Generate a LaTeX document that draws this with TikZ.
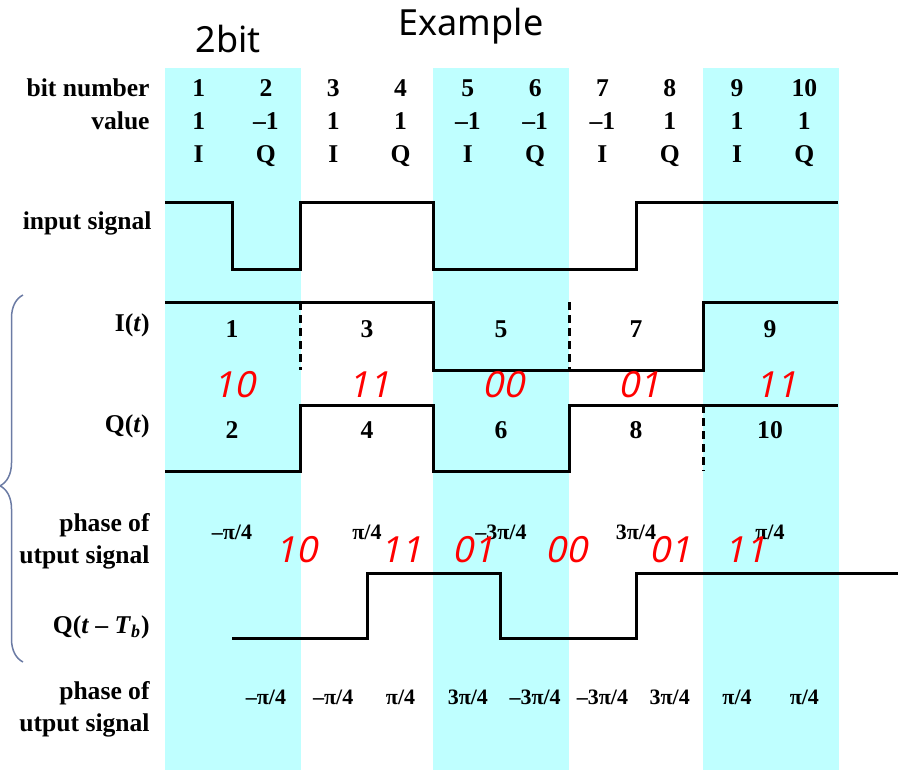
\documentclass[tikz,border=0pt]{standalone}
\usepackage{fontspec}
\setmainfont{Liberation Serif}
\newfontfamily\headfont{Noto Sans}
\newfontfamily\notefont[FakeSlant=0.22]{Noto Sans}
\usetikzlibrary{positioning, decorations.pathreplacing}
\definecolor{bandcyan}{HTML}{BFFFFF}
\definecolor{notered}{HTML}{FF0000}
\definecolor{braceblue}{HTML}{6B7BA4}

\begin{document}
\begin{tikzpicture}[x=0.5pt, y=-0.5pt,
    rowlabel/.style={anchor=base east, inner sep=0pt,
                     font=\fontsize{12.8}{16}\selectfont\bfseries},
    twoline/.style={anchor=east, inner sep=0pt, align=right,
                    font=\fontsize{12.8}{16}\selectfont\bfseries},
    cell/.style={anchor=base, inner sep=0pt,
                 font=\fontsize{12.8}{16}\selectfont\bfseries},
    phase/.style={anchor=base, inner sep=0pt,
                  font=\fontsize{11}{13}\selectfont\bfseries},
    note/.style={anchor=base, inner sep=0pt, text=notered,
                 font=\fontsize{18}{20}\selectfont\notefont},
    heading/.style={anchor=base, inner sep=0pt,
                    font=\fontsize{18}{21}\selectfont\headfont},
    wave/.style={line width=1.5pt},
    split/.style={line width=1.5pt, dash pattern=on 4pt off 2.5pt},
]

\useasboundingbox (0,0) rectangle (898,770);

% === Shaded I/Q pairs ===
\foreach \x in {165, 433, 703}
  \fill[bandcyan] (\x,68) rectangle ++(135.5,702);

% === Heading ===
\node[heading] (twobit)  at (228,53) {2bit};
\node[heading] (example) at (471,36) {Example};

% === Bit table ===
\node[rowlabel] (lbitnum) at (150,97)  {bit number};
\node[rowlabel] (lvalue)  at (150,130) {value};
\foreach \i/\v/\c in {1/1/I, 2/–1/Q, 3/1/I, 4/1/Q, 5/–1/I,
                      6/–1/Q, 7/–1/I, 8/1/Q, 9/1/I, 10/1/Q} {
  \node[cell] (num\i) at ({165+67.3*(\i-0.5)},97)  {\i};
  \node[cell] (val\i) at ({165+67.3*(\i-0.5)},130) {\v};
  \node[cell] (arm\i) at ({165+67.3*(\i-0.5)},163) {\c};
}

% === Input signal ===
\node[rowlabel] (linput) at (152,229) {input signal};
\draw[wave] (165,203) -- (232,203) -- (232,269) -- (300,269) -- (300,203)
  -- (433,203) -- (433,269) -- (636,269) -- (636,203) -- (838,203);

% === I(t) ===
\node[rowlabel] (litime) at (150,331) {I(\textit{t})};
\draw[wave] (165,302) -- (433,302) -- (433,370) -- (703,370) -- (703,302)
  -- (838,302);
\draw[split] (300,302) -- (300,370);
\draw[split] (569,302) -- (569,370);
\foreach \i/\x in {1/232, 3/367, 5/501, 7/636, 9/770}
  \node[cell] (ibit\i) at (\x,337) {\i};

% === Q(t) ===
\node[rowlabel] (lqtime) at (150,432) {Q(\textit{t})};
\draw[wave] (165,471) -- (300,471) -- (300,405) -- (433,405) -- (433,471)
  -- (569,471) -- (569,405) -- (838,405);
\draw[split] (703,405) -- (703,471);
\foreach \i/\x in {2/232, 4/367, 6/501, 8/636, 10/770}
  \node[cell] (qbit\i) at (\x,438) {\i};

% symbol pairs
\foreach \s/\x [count=\k] in {10/234, 11/369, 00/503, 01/639, 11/776}
  \node[note] (pair\k) at (\x,397) {\s};

% === Phase (first) ===
\node[twoline] (lphaseA) at (150,541) {phase of\\utput signal};
\foreach \p/\x [count=\k] in {{–π/4}/232, {π/4}/367, {–3π/4}/501,
                              {3π/4}/636, {π/4}/770}
  \node[phase] (phA\k) at (\x,539) {\p};
\foreach \s/\x [count=\k] in {10/296, 11/401, 01/473, 00/566, 01/670, 11/745}
  \node[note] (shift\k) at (\x,562) {\s};

% === Q(t - Tb) ===
\node[rowlabel] (lqdelay) at (150,633)
  {Q(\textit{t} – \textit{T}\textsubscript{\textit{b}})};
\draw[wave] (232,638) -- (367,638) -- (367,573) -- (500,573) -- (500,638)
  -- (636,638) -- (636,573) -- (898,573);

% === Phase (second) ===
\node[twoline] (lphaseB) at (150,709) {phase of\\utput signal};
\foreach \p [count=\k from 2] in {–π/4, –π/4, π/4, 3π/4, –3π/4, –3π/4,
                                  3π/4, π/4, π/4}
  \node[phase] (phB\k) at ({165+67.3*(\k-0.5)},704) {\p};

% === Brace ===
\draw[braceblue, line width=0.75pt, decorate,
      decoration={brace, amplitude=11.5pt, aspect=0.48}]
  (23,662) -- (23,295);

\end{tikzpicture}
\end{document}
